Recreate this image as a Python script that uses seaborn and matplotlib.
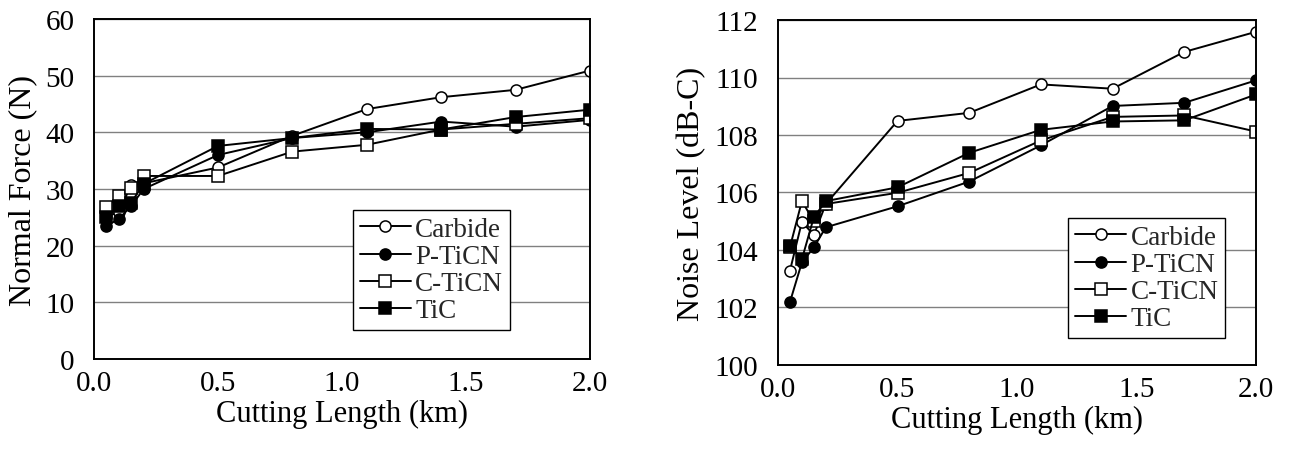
import numpy as np
import pandas as pd
import matplotlib
matplotlib.use("Agg")
import matplotlib.pyplot as plt
import seaborn as sns

# ---------------- data ----------------
cutting_length = [0.05, 0.1, 0.15, 0.2, 0.5, 0.8, 1.1, 1.4, 1.7, 2.0]
series_names = ["Carbide", "P-TiCN", "C-TiCN", "TiC"]

force_carbide = [25.0, 26.0, 30.7, 31.0, 33.8, 39.4, 44.1, 46.2, 47.5, 50.9]
force_pticn = [23.5, 24.7, 27.0, 30.0, 36.0, 39.0, 40.0, 41.9, 41.0, 42.2]
force_cticn = [26.8, 28.8, 30.1, 32.3, 32.3, 36.6, 37.8, 40.5, 41.5, 42.5]
force_tic = [25.0, 27.0, 27.6, 30.9, 37.6, 39.0, 40.6, 40.5, 42.7, 44.0]

noise_carbide = [103.28, 104.98, 104.52, 105.6, 108.49, 108.77, 109.76, 109.61, 110.89, 111.59]
noise_pticn = [102.19, 103.57, 104.09, 104.79, 105.52, 106.38, 107.64, 109.01, 109.12, 109.90]
noise_cticn = [104.1, 105.7, 105.0, 105.6, 105.99, 106.68, 107.81, 108.63, 108.68, 108.12]
noise_tic = [104.15, 103.68, 105.14, 105.70, 106.18, 107.38, 108.18, 108.47, 108.51, 109.41]

x_ticks = [0.0, 0.5, 1.0, 1.5, 2.0]
x_tick_labels = ["0.0", "0.5", "1.0", "1.5", "2.0"]
force_ticks = [0, 10, 20, 30, 40, 50, 60]
noise_ticks = [100, 102, 104, 106, 108, 110, 112]

# ---------------- style ----------------
sns.set_theme(style="white")
plt.rcParams["font.family"] = ["Liberation Serif", "DejaVu Serif"]

marker_styles = {
    "Carbide": dict(marker="o", markerfacecolor="white"),
    "P-TiCN": dict(marker="o", markerfacecolor="black"),
    "C-TiCN": dict(marker="s", markerfacecolor="white"),
    "TiC": dict(marker="s", markerfacecolor="black"),
}

fig = plt.figure(figsize=(13.08, 4.64), dpi=100)
W, H = 1308, 464
ax1 = fig.add_axes([94 / W, 1 - 360 / H, 496 / W, 340 / H])
ax2 = fig.add_axes([778 / W, 1 - 366 / H, 478 / W, 345 / H])

force_data = {"Carbide": force_carbide, "P-TiCN": force_pticn,
              "C-TiCN": force_cticn, "TiC": force_tic}
noise_data = {"Carbide": noise_carbide, "P-TiCN": noise_pticn,
              "C-TiCN": noise_cticn, "TiC": noise_tic}


def draw(ax, data, yticks, ylabel, leg_anchor):
    for name in series_names:
        df = pd.DataFrame({"x": cutting_length, "y": data[name]})
        sns.lineplot(data=df, x="x", y="y", ax=ax, color="black",
                     linewidth=1.4, markersize=8, markeredgecolor="black",
                     markeredgewidth=1.1, label=name, **marker_styles[name])
    ax.set_xlim(0, 2.0)
    ax.set_ylim(yticks[0], yticks[-1])
    ax.set_xticks(x_ticks)
    ax.set_xticklabels(x_tick_labels)
    ax.set_yticks(yticks)
    ax.set_yticklabels([str(t) for t in yticks])
    ax.yaxis.grid(True, color="#808080", linewidth=1.0)
    ax.xaxis.grid(False)
    ax.set_axisbelow(True)
    for sp in ax.spines.values():
        sp.set_color("black")
        sp.set_linewidth(1.4)
    ax.tick_params(axis="both", direction="in", length=6, width=1.2,
                   colors="black", labelsize=21, pad=8)
    ax.tick_params(axis="y", pad=14, length=5)
    ax.set_xlabel("Cutting Length (km)", fontsize=22, labelpad=2, color="black")
    ax.set_ylabel(ylabel, fontsize=23, labelpad=6, color="black")
    leg = ax.legend(loc="lower left", bbox_to_anchor=leg_anchor,
                    fontsize=19.5, frameon=True, fancybox=False,
                    edgecolor="black", framealpha=1, handlelength=1.9,
                    handletextpad=0.15, borderpad=0.25, labelspacing=0.08,
                    borderaxespad=0)
    leg.get_frame().set_linewidth(1.0)


draw(ax1, force_data, force_ticks, "Normal Force (N)", (0.522, 0.085))
draw(ax2, noise_data, noise_ticks, "Noise Level (dB-C)", (0.607, 0.078))

fig.savefig("out.png", dpi=100, facecolor="white")
